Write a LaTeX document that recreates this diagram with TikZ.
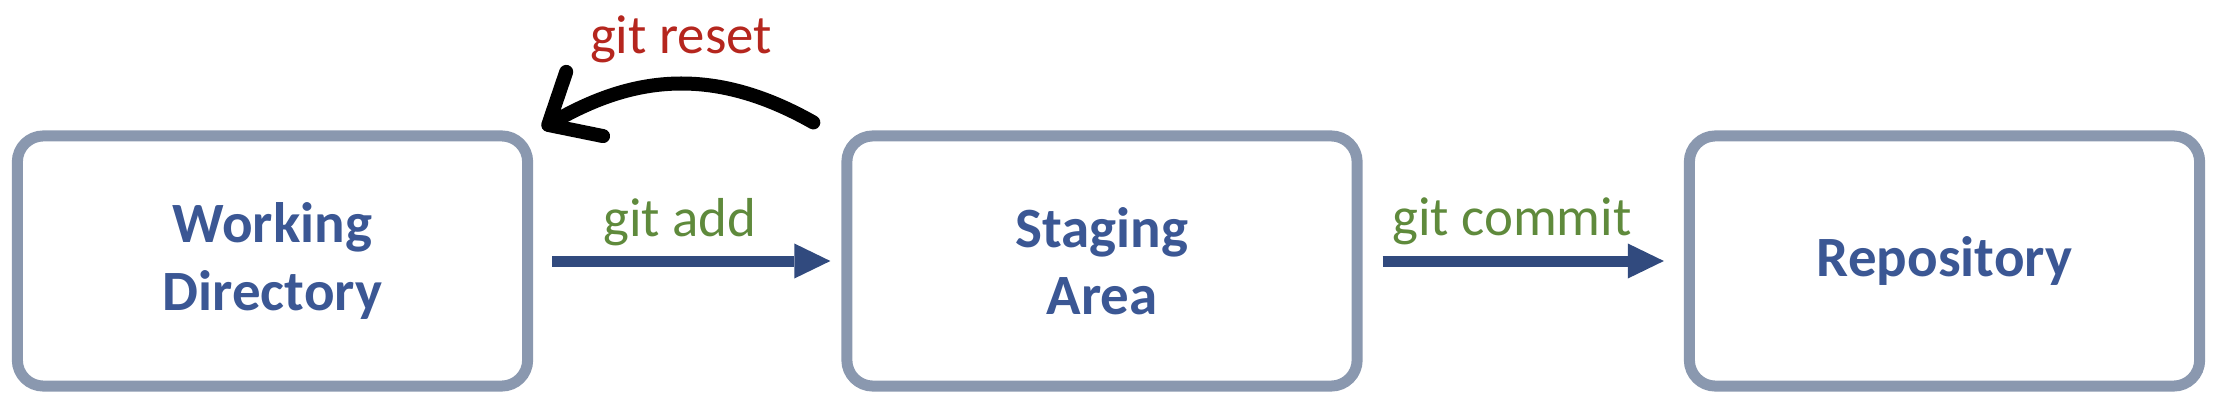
\documentclass[tikz,border=0pt]{standalone}
\usepackage{fontspec}
\setmainfont{Carlito}
\usetikzlibrary{arrows.meta}

\definecolor{boxline}{RGB}{138,152,175}
\definecolor{boxtext}{RGB}{59,87,148}
\definecolor{flowblue}{RGB}{49,74,126}
\definecolor{cmdgreen}{RGB}{95,138,60}
\definecolor{cmdred}{RGB}{181,38,30}

\begin{document}
\begin{tikzpicture}[x=0.01cm, y=-0.01cm,
  stage/.style={draw=boxline, line width=0.11cm, rounded corners=0.26cm,
    minimum width=5.10cm, minimum height=2.50cm, align=center,
    text=boxtext, font=\fontsize{16.2}{19.1}\selectfont\bfseries},
  cmd/.style={font=\fontsize{15.6}{18}\selectfont, anchor=base, inner sep=0pt},
  flow/.style={draw=flowblue, line width=0.11cm,
    -{Triangle[length=0.36cm, width=0.35cm, line width=0pt]}}]

  \useasboundingbox (0,0) rectangle (2218,412);

  % Boxes
  \node[stage] (wd)   at (272.5,261) {Working\\Directory};
  \node[stage] (sa)   at (1102,261)  {Staging\\Area};
  \node[stage] (repo) at (1944.5,261) {Repository};

  % Blue arrows with green labels
  \draw[flow, shorten <=0.19cm, shorten >=0.11cm] (wd) --
    node[cmd, text=cmdgreen, pos=0.476, yshift=0.24cm] (add) {git add} (sa);
  \draw[flow, shorten <=0.20cm, shorten >=0.20cm] (sa) --
    node[cmd, text=cmdgreen, pos=0.465, yshift=0.25cm] (commit) {git commit} (repo);

  % Black curved arrow back to the working directory
  \draw[line width=0.14cm, line cap=round,
    -{Straight Barb[length=0.42cm, width=0.74cm, round]}]
    ([shift={(-28,-8)}]sa.north west) .. controls +(-104,-59) and +(87,-50) ..
    ([shift={(9,-2)}]wd.north east);

  % Red label
  \node[cmd, text=cmdred] (reset) at (681,53) {git reset};

\end{tikzpicture}
\end{document}
